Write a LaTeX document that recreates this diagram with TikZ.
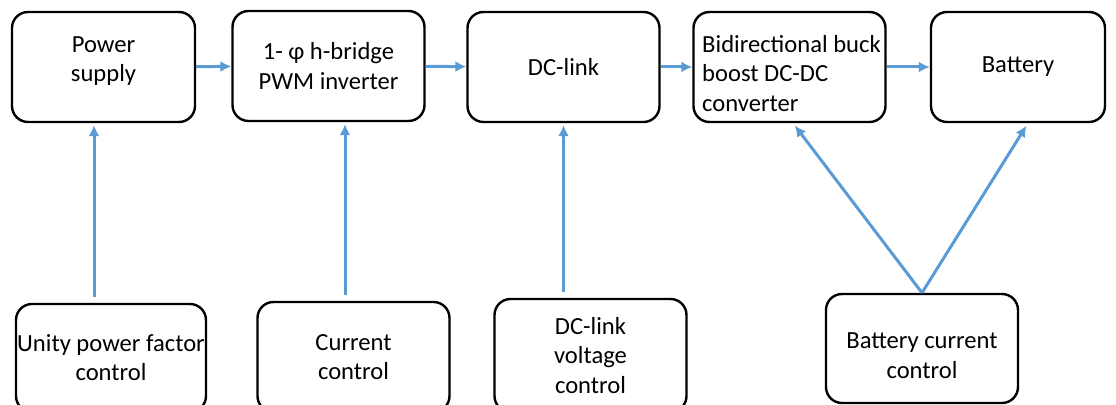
\documentclass[tikz,border=0pt]{standalone}
\usepackage{fontspec}
\setmainfont{Carlito}
\usepackage{xcolor}
\usepackage{tikz}
\usetikzlibrary{calc, positioning, arrows.meta}

\definecolor{flowblue}{RGB}{91,155,213}

\begin{document}
\begin{tikzpicture}[x=0.5pt, y=-0.5pt,
    blk/.style={draw, line width=1.2pt, rounded corners=8pt, align=center, inner sep=0pt,
        minimum width=96pt, minimum height=55pt, font=\fontsize{12.3}{14.6}\selectfont},
    flow/.style={draw=flowblue, line width=1.5pt, -{Latex[length=5.5pt,width=5.5pt]}}]
    \useasboundingbox (0,0) rectangle (1116,405);
    % power stage, left to right
    \node[blk, minimum width=91.5pt] (pwr) at (103.5,67) {Power\\supply\rule[-8pt]{0pt}{0pt}};
    \node[blk] (inv) at (328.5,66) {1- φ h-bridge\\PWM inverter};
    \node[blk] (dcl) at (563.5,67) {DC-link};
    \node[blk, align=left] (bdc) at (789.5,67) {\rule{0pt}{15pt}\hspace*{2pt}Bidirectional buck\\\hspace*{2pt}boost DC-DC\\\hspace*{2pt}converter};
    \node[blk, minimum width=87pt] (bat) at (1018,67) {Battery};
    \foreach \a/\b in {pwr/inv, inv/dcl, dcl/bdc, bdc/bat} {
        \draw[flow] (\a) -- (\b);
    }
    % control loops
    \node[blk, minimum width=95pt, minimum height=54pt] (upf) at (111,358) {Unity power factor\\control};
    \node[blk, minimum height=55pt] (cc) at (353.5,357) {Current\\control};
    \node[blk, minimum height=56.5pt] (dvc) at (590.5,355.5) {DC-link\\voltage\\control};
    \node[blk, minimum height=54.5pt] (bcc) at (922,348.5) {\rule{0pt}{15pt}Battery current\\control};
    \draw[flow, shorten <=3pt, shorten >=1pt] ([xshift=-8.5pt]upf.north) -- ([xshift=-8.5pt]upf.north |- pwr.south);
    \draw[flow, shorten <=3pt, shorten >=1pt] ([xshift=-4.25pt]cc.north) -- ([xshift=-4.25pt]cc.north |- inv.south);
    \draw[flow, shorten <=3pt, shorten >=1pt] (dcl.south |- dvc.north) -- (dcl.south);
    \draw[flow, shorten >=1.5pt] (bcc.north) -- ($(bdc.south)+(3.5,0)$);
    \draw[flow, shorten >=1.5pt] (bcc.north) -- ($(bat.south)+(10,0)$);
\end{tikzpicture}
\end{document}
